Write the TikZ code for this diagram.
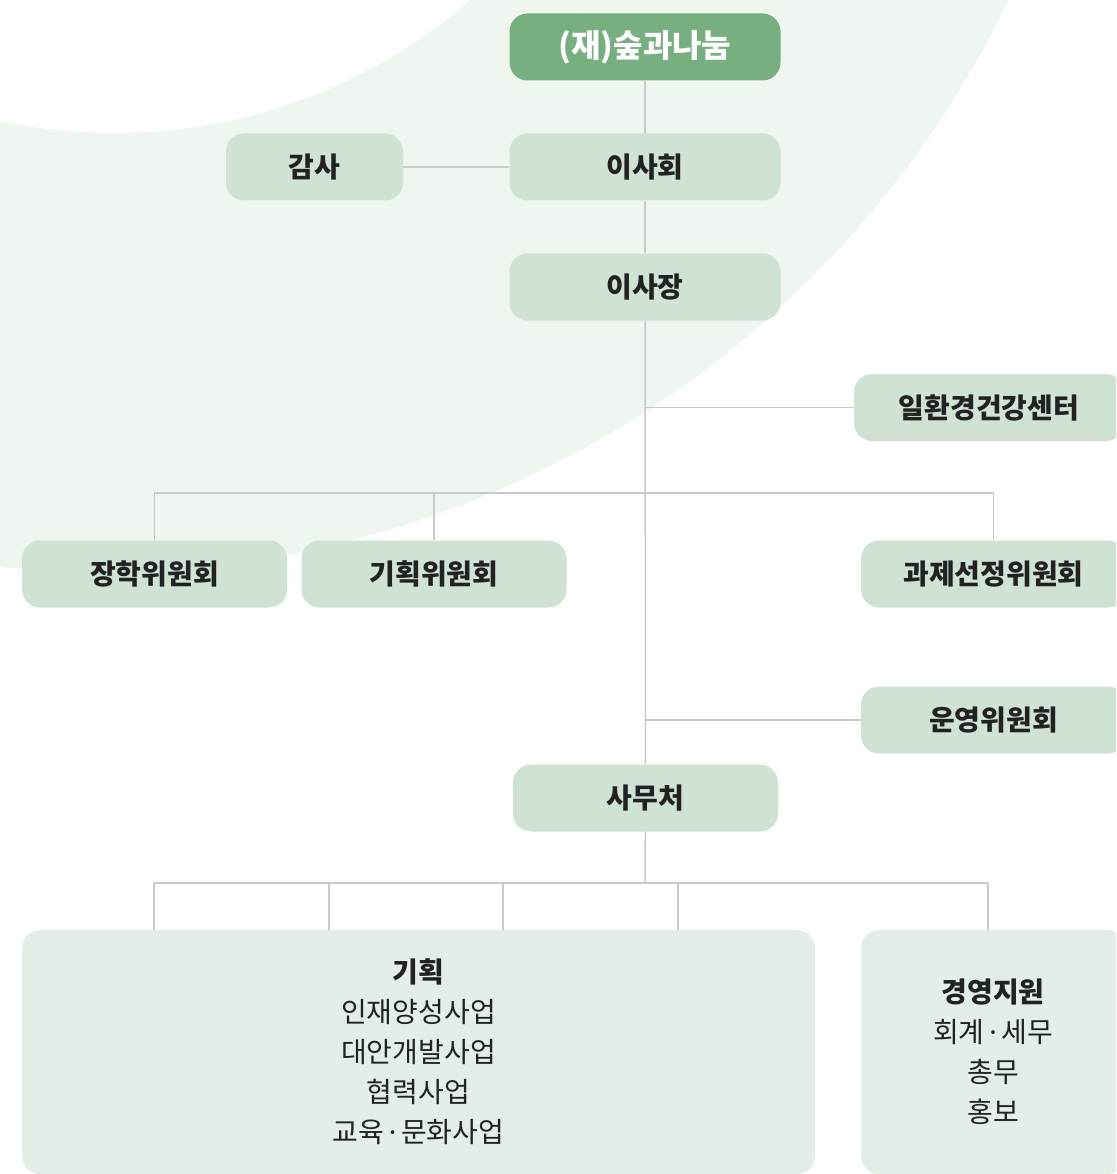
\documentclass[tikz,border=0pt]{standalone}
\usepackage{fontspec}
\setmainfont{Noto Sans CJK KR}
\newfontfamily\latinfont{Noto Sans}
\definecolor{bgmint}{HTML}{EFF6EF}
\definecolor{topgreen}{HTML}{77AF80}
\definecolor{boxgreen}{HTML}{CFE2D4}
\definecolor{paleboxgreen}{HTML}{E2EEE6}
\definecolor{linegray}{HTML}{C9C9C9}
\definecolor{ink}{HTML}{222222}
\newcommand{\middot}{{\latinfont\,·\,}}
\begin{document}
\begin{tikzpicture}[x=1pt, y=-1pt,
    box/.style={rectangle, rounded corners=18pt, fill=boxgreen, text=ink, inner sep=0pt,
        minimum width=265pt, minimum height=67pt, font=\fontsize{28}{32}\selectfont\bfseries},
    bigbox/.style={rectangle, rounded corners=18pt, fill=paleboxgreen, text=ink, inner sep=0pt,
        minimum height=244pt, align=center, font=\fontsize{28}{40}\selectfont},
    link/.style={draw=linegray, line width=1.5pt}]
\clip (0,0) rectangle (1116,1174);
\fill[bgmint] (100,-435) circle (1007pt);
\fill[white] (115,-407) circle (540pt);

\node[box, fill=topgreen, text=white, minimum width=271pt, font=\fontsize{32}{36}\selectfont\bfseries] (found) at (645,47) {(재)숲과나눔};
\node[box, minimum width=271pt] (board) at (645,167) {이사회};
\node[box, minimum width=177pt] (audit) at (314.5,167) {감사};
\node[box, minimum width=271pt] (chair) at (645,287) {이사장};
\node[box, minimum width=270pt] (health) at (989,407.5) {일환경건강센터};
\node[box] (scholar) at (154.5,574) {장학위원회};
\node[box] (plancmte) at (434,574) {기획위원회};
\node[box] (select) at (993.5,574) {과제선정위원회};
\node[box] (ops) at (993.5,720) {운영위원회};
\node[box] (office) at (645.5,798) {사무처};
\node[bigbox, minimum width=793pt] (planning) at (418.5,1052) {\textbf{기획}\\인재양성사업\\대안개발사업\\협력사업\\교육\middot 문화사업};
\node[bigbox, minimum width=264pt] (mgmt) at (993,1052) {\textbf{경영지원}\\회계\middot 세무\\총무\\홍보};

\draw[link] (found) -- (board);
\draw[link] (audit) -- (board);
\draw[link] (board) -- (chair);
\draw[link] (chair) -- (office);
\draw[link] (health) -- (health -| chair);
\draw[link] (ops) -- (ops -| chair);
\coordinate (cmtebus) at (645,493);
\draw[link] (scholar.north) |- (cmtebus) -| (select.north);
\draw[link] (plancmte.north) -- (plancmte.north |- cmtebus);
\coordinate (officebus) at (645,883);
\draw[link] (office) -- (officebus);
\foreach \x [count=\i] in {154,329,503,678}
    \coordinate (drop\i) at (\x,883);
\coordinate (drop5) at (988,883);
\draw[link] (drop1) -- (drop5);
\foreach \i in {1,...,4}
    \draw[link] (drop\i) -- (drop\i |- planning.north);
\draw[link] (drop5) -- (drop5 |- mgmt.north);
\end{tikzpicture}
\end{document}
